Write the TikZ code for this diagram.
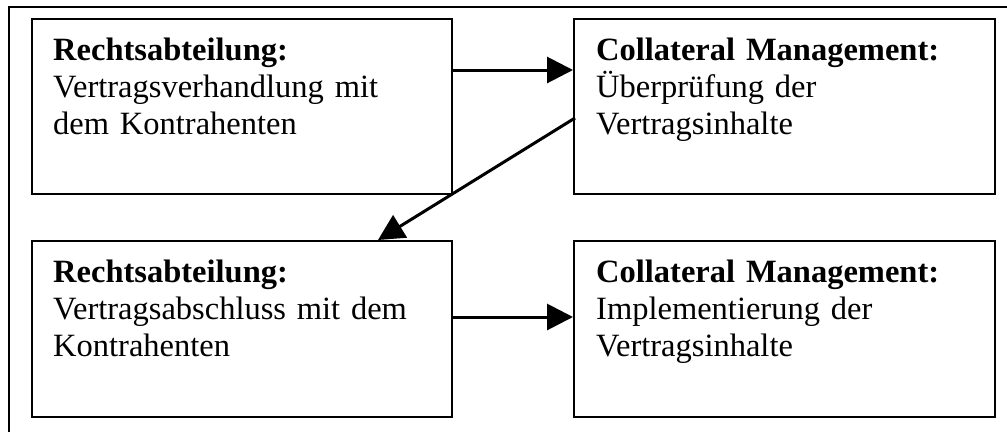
\documentclass[tikz,border=0pt]{standalone}
\usepackage{fontspec}
\setmainfont{Liberation Serif}
\usetikzlibrary{arrows.meta}
\tikzset{
  box/.style={draw=black, line width=2pt, rectangle, minimum width=420pt, minimum height=175pt, inner sep=0pt},
  boxtext/.style={anchor=base west, inner sep=0pt, text width=410pt, align=left,
    font=\fontsize{32.5}{37}\selectfont},
  conn/.style={line width=3pt, -{Triangle[length=26pt,width=26pt]}},
  frame/.style={line width=1.3pt}
}
\begin{document}
\begin{tikzpicture}[x=1pt,y=-1pt]
\useasboundingbox (0,0) rectangle (1007,432);
\draw[frame] (9,432) -- (9,7) -- (1007,7);
\node[box] (tl) at (242,106.5) {};
\node[box, minimum width=421pt] (tr) at (784.5,106.5) {};
\node[box, minimum height=176pt] (bl) at (242,329) {};
\node[box, minimum width=421pt, minimum height=176pt] (br) at (784.5,329) {};
\node[boxtext] (tlt) at (53,60) {\textbf{Rechtsabteilung:}\\Vertragsverhandlung mit\\dem Kontrahenten};
\node[boxtext] (trt) at (596,60) {\textbf{Collateral Management:}\\Überprüfung der\\Vertragsinhalte};
\node[boxtext] (blt) at (53,282) {\textbf{Rechtsabteilung:}\\Vertragsabschluss mit dem\\Kontrahenten};
\node[boxtext] (brt) at (596,282) {\textbf{Collateral Management:}\\Implementierung der\\Vertragsinhalte};
\draw[conn] ([yshift=36.5pt]tl.east) -- ([yshift=36.5pt]tr.west);
\draw[conn] ([xshift=2pt,yshift=-11.5pt]tr.west) -- ([xshift=136pt]bl.north);
\draw[conn] ([yshift=12pt]bl.east) -- ([yshift=12pt]br.west);
\end{tikzpicture}
\end{document}
